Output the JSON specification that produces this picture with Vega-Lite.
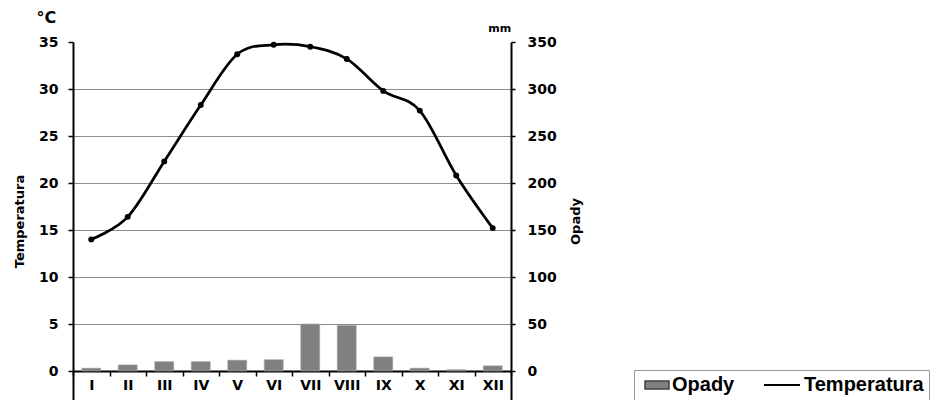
{
  "$schema": "https://vega.github.io/schema/vega-lite/v6.json",
  "width": 438,
  "height": 358,
  "autosize": {"type": "none"},
  "padding": {"left": 73, "top": 42, "right": 426, "bottom": 0},
  "background": "white",
  "data": {
    "values": [
      {"month": "I", "temp": 14.0, "precip": 3},
      {"month": "II", "temp": 16.4, "precip": 6.5},
      {"month": "III", "temp": 22.3, "precip": 10},
      {"month": "IV", "temp": 28.3, "precip": 10},
      {"month": "V", "temp": 33.7, "precip": 11.5},
      {"month": "VI", "temp": 34.7, "precip": 12},
      {"month": "VII", "temp": 34.5, "precip": 50},
      {"month": "VIII", "temp": 33.2, "precip": 48.5},
      {"month": "IX", "temp": 29.8, "precip": 15},
      {"month": "X", "temp": 27.7, "precip": 3},
      {"month": "XI", "temp": 20.8, "precip": 1.5},
      {"month": "XII", "temp": 15.2, "precip": 5.5}
    ]
  },
  "encoding": {
    "x": {
      "field": "month",
      "type": "nominal",
      "sort": null,
      "scale": {"paddingInner": 0, "paddingOuter": 0},
      "axis": {
        "title": null,
        "orient": "bottom",
        "offset": -29,
        "labelAngle": 0,
        "tickBand": "extent",
        "tickSize": 5,
        "tickWidth": 1.5,
        "tickColor": "#000",
        "domainColor": "#000",
        "domainWidth": 2,
        "labelFont": "DejaVu Sans",
        "labelFontWeight": "bold",
        "labelFontSize": 14,
        "labelColor": "#000",
        "labelPadding": 2
      }
    }
  },
  "layer": [
    {
      "mark": {"type": "bar", "width": {"band": 0.52}, "stroke": "#a6a6a6", "strokeWidth": 0.6},
      "encoding": {
        "y": {
          "field": "precip",
          "type": "quantitative",
          "scale": {"domain": [-30.85, 350], "nice": false, "zero": false},
          "axis": {
            "orient": "right",
            "title": "Opady",
            "values": [0, 50, 100, 150, 200, 250, 300, 350],
            "grid": false,
            "tickSize": 4,
            "tickWidth": 1.5,
            "tickColor": "#000",
            "domainColor": "#000",
            "domainWidth": 2,
            "labelFont": "DejaVu Sans",
            "labelFontWeight": "bold",
            "labelFontSize": 14,
            "labelColor": "#000",
            "labelPadding": 12,
            "titleFont": "DejaVu Sans",
            "titleFontWeight": "bold",
            "titleFontSize": 13,
            "titleColor": "#000",
            "titleAngle": 270,
            "titlePadding": 26
          }
        },
        "y2": {"datum": 0},
        "color": {
          "datum": "Opady",
          "scale": {"domain": ["Opady"], "range": ["#808080"]},
          "legend": {
            "title": null,
            "orient": "none",
            "legendX": 561,
            "legendY": 328,
            "direction": "horizontal",
            "padding": 5,
            "clipHeight": 20,
            "symbolType": "M-1,-0.33H1V0.33H-1Z",
            "symbolSize": 576,
            "symbolOffset": 5,
            "symbolFillColor": "#808080",
            "symbolStrokeColor": "#404040",
            "symbolStrokeWidth": 1.5,
            "symbolOpacity": 1,
            "labelFont": "Liberation Sans",
            "labelFontWeight": "bold",
            "labelFontSize": 20,
            "labelColor": "#000",
            "labelOffset": 2
          }
        }
      }
    },
    {
      "layer": [
        {
          "mark": {"type": "line", "interpolate": "cardinal", "strokeWidth": 2.75},
          "encoding": {
            "y": {
              "field": "temp",
              "type": "quantitative",
              "scale": {"domain": [-3.085, 35], "nice": false, "zero": false},
              "axis": {
                "orient": "left",
                "title": "Temperatura",
                "values": [0, 5, 10, 15, 20, 25, 30, 35],
                "grid": true,
                "gridColor": "#8c8c8c",
                "gridWidth": 1,
                "gridOpacity": {"condition": {"test": "datum.value === 0 || datum.value === 35", "value": 0}, "value": 1},
                "tickSize": 5,
                "tickWidth": 1.5,
                "tickColor": "#000",
                "domainColor": "#000",
                "domainWidth": 2,
                "labelFont": "DejaVu Sans",
                "labelFontWeight": "bold",
                "labelFontSize": 14,
                "labelColor": "#000",
                "labelPadding": 10,
                "titleFont": "DejaVu Sans",
                "titleFontWeight": "bold",
                "titleFontSize": 13,
                "titleColor": "#000",
                "titlePadding": 12
              }
            },
            "color": {
              "datum": "Temperatura",
              "scale": {"domain": ["Temperatura"], "range": ["#000000"]},
              "legend": {
                "title": null,
                "orient": "none",
                "legendX": 561,
                "legendY": 328,
                "direction": "horizontal",
                "padding": 5,
                "clipHeight": 20,
                "strokeColor": "#999999",
                "symbolType": "stroke",
                "symbolSize": 1296,
                "symbolOffset": 124,
                "symbolStrokeColor": "#000000",
                "symbolStrokeWidth": 2,
                "symbolOpacity": 1,
                "labelFont": "Liberation Sans",
                "labelFontWeight": "bold",
                "labelFontSize": 20,
                "labelColor": "#000",
                "labelOffset": 3
              }
            }
          }
        },
        {
          "mark": {"type": "point", "filled": true, "color": "#000", "size": 35, "opacity": 1},
          "encoding": {"y": {"field": "temp", "type": "quantitative"}}
        },
        {
          "data": {"values": [{"unit": "°C"}]},
          "mark": {"type": "text", "font": "DejaVu Sans", "fontWeight": "bold", "fontSize": 16, "color": "#000", "align": "center", "baseline": "alphabetic", "dx": -45},
          "encoding": {
            "x": {"datum": "I"},
            "y": {"datum": 37.02, "type": "quantitative"},
            "text": {"field": "unit"}
          }
        },
        {
          "data": {"values": [{"unit": "mm"}]},
          "mark": {"type": "text", "font": "DejaVu Sans", "fontWeight": "bold", "fontSize": 11, "color": "#000", "align": "center", "baseline": "alphabetic", "dx": 7},
          "encoding": {
            "x": {"datum": "XII"},
            "y": {"datum": 36.06, "type": "quantitative"},
            "text": {"field": "unit"}
          }
        }
      ]
    }
  ],
  "resolve": {"scale": {"y": "independent", "color": "independent"}},
  "config": {"view": {"stroke": null}}
}
